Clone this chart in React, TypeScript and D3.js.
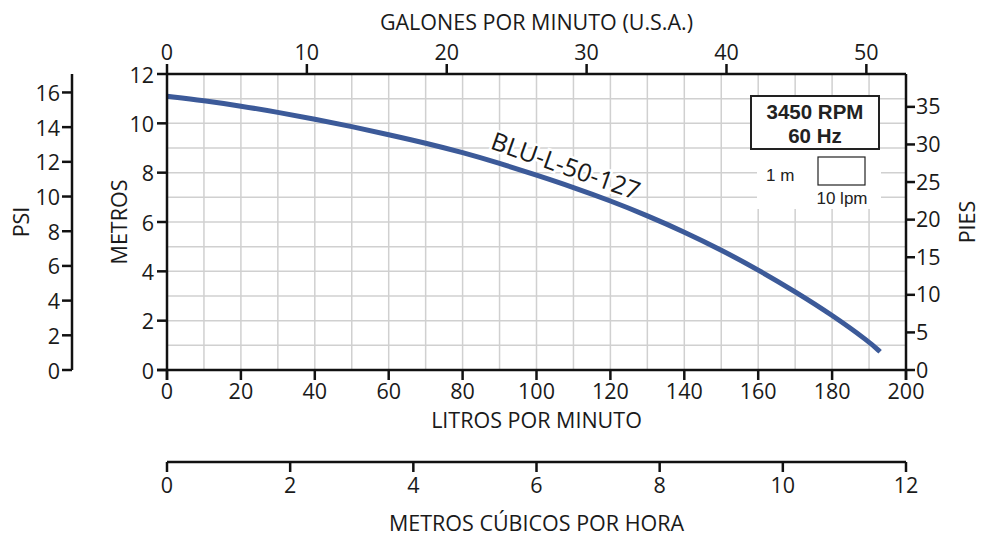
import * as d3 from 'd3'

// curve: litros por minuto -> metros
const flowLpm = [0, 10, 20, 30, 40, 50, 60, 70, 80, 90, 100, 110, 120, 130, 140, 150, 160, 170, 180, 190, 193]
const headM = [11.1, 10.92, 10.7, 10.45, 10.17, 9.87, 9.54, 9.2, 8.82, 8.38, 7.9, 7.4, 6.86, 6.26, 5.6, 4.87, 4.06, 3.18, 2.23, 1.15, 0.74]

const lpmTicks = [0, 20, 40, 60, 80, 100, 120, 140, 160, 180, 200]
const gpmTicks = [0, 10, 20, 30, 40, 50]
const m3hTicks = [0, 2, 4, 6, 8, 10, 12]
const metrosTicks = [0, 2, 4, 6, 8, 10, 12]
const psiTicks = [0, 2, 4, 6, 8, 10, 12, 14, 16]
const piesTicks = [0, 5, 10, 15, 20, 25, 30, 35]

const modelName = 'BLU-L-50-127'
const legendLines = ['3450 RPM', '60 Hz']

const LPM_PER_GPM = 3.78541
const PSI_PER_M = 1.42197
const FT_PER_M = 3.28084

const FONT = "'Open Sans', sans-serif"
const ARIAL = "'Liberation Sans', Arial, sans-serif"

export default function App() {
  const W = 989
  const H = 536
  const left = 167
  const right = 906
  const top = 74
  const bottom = 370

  const x = d3.scaleLinear().domain([0, 200]).range([left, right])
  const y = d3.scaleLinear().domain([0, 12]).range([bottom, top])
  const xGpm = d3.scaleLinear().domain([0, 200 / LPM_PER_GPM]).range([left, right])
  const xM3h = d3.scaleLinear().domain([0, 12]).range([left, right])
  const yPsi = d3.scaleLinear().domain([0, 12 * PSI_PER_M]).range([bottom, top])
  const yFt = d3.scaleLinear().domain([0, 12 * FT_PER_M]).range([bottom, top])

  const line = d3
    .line<number>()
    .x((_, i) => x(flowLpm[i]))
    .y((d) => y(d))
    .curve(d3.curveBasis)

  const vGrid = d3.range(10, 200, 10)
  const hGrid = d3.range(1, 12, 1)
  const psiAxisX = 72
  const m3hY = 462
  const fs = 21.5
  const ink = '#1a1a1a'

  return (
    <svg width={W} height={H} style={{ position: 'absolute', left: 0, top: 0, background: '#fff' }}>
      <rect width={W} height={H} fill="#fff" />
      {/* grid */}
      <g stroke="#d0d0d0" strokeWidth={1.5}>
        {vGrid.map((v) => (
          <line key={'v' + v} x1={x(v)} x2={x(v)} y1={top} y2={bottom} />
        ))}
        {hGrid.map((v) => (
          <line key={'h' + v} x1={left} x2={right} y1={y(v)} y2={y(v)} />
        ))}
      </g>

      {/* legend background */}
      <rect x={757} y={149} width={124} height={60} fill="#fff" />

      {/* curve */}
      <path d={line(headM) ?? ''} fill="none" stroke="#3c5a99" strokeWidth={5} />

      <text
        transform={`translate(565,168) rotate(19.5)`}
        textAnchor="middle"
        dominantBaseline="middle"
        fontFamily={FONT}
        fontSize={25}
        fill={ink}
        stroke="#fff"
        strokeWidth={5}
        paintOrder="stroke"
      >
        {modelName}
      </text>

      {/* frame/axes */}
      <g stroke="#111" strokeWidth={2.5} fill="none">
        <line x1={left} x2={left} y1={top} y2={bottom + 10} />
        <line x1={left - 10} x2={right} y1={bottom} y2={bottom} />
        <line x1={left} x2={right} y1={top} y2={top} />
        <line x1={right} x2={right} y1={top} y2={bottom + 10} />
        <line x1={psiAxisX} x2={psiAxisX} y1={top} y2={bottom} />
        <line x1={left} x2={right} y1={m3hY} y2={m3hY} />
      </g>

      {/* bottom lpm axis */}
      <g fontFamily={FONT} fontSize={fs} fill={ink} textAnchor="middle">
        {lpmTicks.map((t) => (
          <g key={'l' + t}>
            <line x1={x(t)} x2={x(t)} y1={bottom} y2={bottom + 10} stroke="#111" strokeWidth={2.5} />
            <text x={x(t)} y={bottom + 29}>{t}</text>
          </g>
        ))}
        <text x={(left + right) / 2} y={428}>LITROS POR MINUTO</text>
      </g>

      {/* top gpm axis */}
      <g fontFamily={FONT} fontSize={fs} fill={ink} textAnchor="middle">
        {gpmTicks.map((t) => (
          <g key={'g' + t}>
            <line x1={xGpm(t)} x2={xGpm(t)} y1={top} y2={top - 10} stroke="#111" strokeWidth={2.5} />
            <text x={xGpm(t)} y={top - 14}>{t}</text>
          </g>
        ))}
        <text x={(left + right) / 2} y={30}>GALONES POR MINUTO (U.S.A.)</text>
      </g>

      {/* m3/h axis */}
      <g fontFamily={FONT} fontSize={fs} fill={ink} textAnchor="middle">
        {m3hTicks.map((t) => (
          <g key={'c' + t}>
            <line x1={xM3h(t)} x2={xM3h(t)} y1={m3hY} y2={m3hY + 10} stroke="#111" strokeWidth={2.5} />
            <text x={xM3h(t)} y={m3hY + 31}>{t}</text>
          </g>
        ))}
        <text x={(left + right) / 2} y={531}>METROS CÚBICOS POR HORA</text>
      </g>

      {/* metros axis */}
      <g fontFamily={FONT} fontSize={fs} fill={ink} textAnchor="end">
        {metrosTicks.map((t) => (
          <g key={'m' + t}>
            <line x1={left - 10} x2={left} y1={y(t)} y2={y(t)} stroke="#111" strokeWidth={2.5} />
            <text x={left - 13} y={y(t)} dominantBaseline="central">{t}</text>
          </g>
        ))}
        <text transform={`translate(127,222) rotate(-90)`} textAnchor="middle">METROS</text>
      </g>

      {/* psi axis */}
      <g fontFamily={FONT} fontSize={fs} fill={ink} textAnchor="end">
        {psiTicks.map((t) => (
          <g key={'p' + t}>
            <line x1={psiAxisX - 10} x2={psiAxisX} y1={yPsi(t)} y2={yPsi(t)} stroke="#111" strokeWidth={2.5} />
            <text x={psiAxisX - 12} y={yPsi(t)} dominantBaseline="central">{t}</text>
          </g>
        ))}
        <text transform={`translate(29,222) rotate(-90)`} textAnchor="middle">PSI</text>
      </g>

      {/* pies axis */}
      <g fontFamily={FONT} fontSize={fs} fill={ink} textAnchor="start">
        {piesTicks.map((t) => (
          <g key={'f' + t}>
            <line x1={right} x2={right + 9} y1={yFt(t)} y2={yFt(t)} stroke="#111" strokeWidth={2.5} />
            <text x={right + 10} y={yFt(t) - 1} dominantBaseline="central">{t}</text>
          </g>
        ))}
        <text transform={`translate(975,222) rotate(-90)`} textAnchor="middle">PIES</text>
      </g>

      {/* legend */}
      <rect x={751} y={96} width={128} height={53} fill="#fff" stroke="#222" strokeWidth={2} />
      <g fontFamily={ARIAL} fontWeight="bold" fontSize={20.5} fill="#222" textAnchor="middle">
        {legendLines.map((s, i) => (
          <text key={s} x={815} y={119 + i * 24}>{s}</text>
        ))}
      </g>
      <g fontFamily={ARIAL} fontSize={17} fill="#222">
        <text x={766} y={181}>1 m</text>
        <rect x={818} y={157} width={47} height={28} fill="#fff" stroke="#222" strokeWidth={1.2} />
        <text x={842} y={204} textAnchor="middle">10 lpm</text>
      </g>
    </svg>
  )
}
